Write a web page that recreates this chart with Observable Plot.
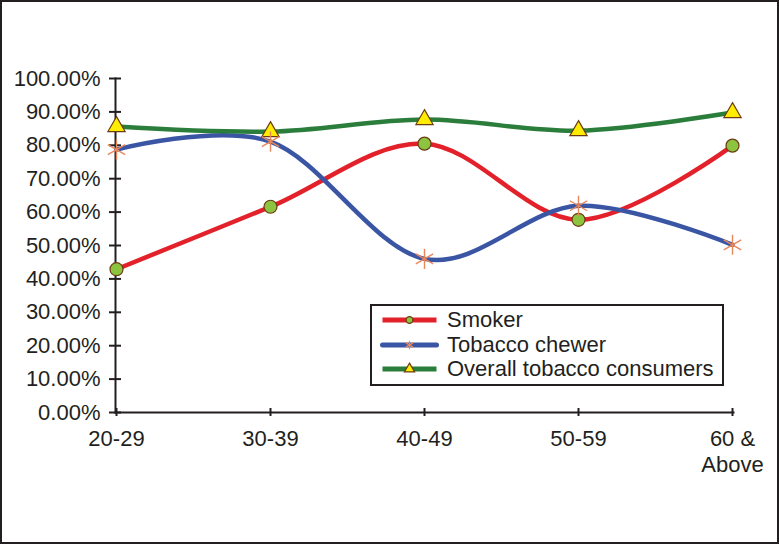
<!DOCTYPE html>
<html><head><meta charset="utf-8">
<script src="https://cdn.jsdelivr.net/npm/d3@7"></script>
<script src="https://cdn.jsdelivr.net/npm/@observablehq/plot@0.6"></script>
<style>
body{margin:0;background:#fff;}
#wrap{position:relative;width:779px;height:544px;font-family:"Liberation Sans",Arial,sans-serif;background:#fff;}
#border{position:absolute;left:0;top:0;width:779px;height:544px;box-sizing:border-box;border:2px solid #231f20;pointer-events:none;}
#legend{position:absolute;left:370px;top:304px;width:354px;height:82px;box-sizing:border-box;border:2px solid #231f20;background:#fff;}
.lrow{position:absolute;left:0;height:24px;display:flex;align-items:center;font-size:22px;color:#231f20;white-space:nowrap;}
.lrow svg{margin-left:8px;margin-right:8px;}
</style></head><body>
<div id="wrap"><div id="chart"></div><div id="legend"></div><div id="border"></div></div>
<script>
const ageGroups = ["20-29", "30-39", "40-49", "50-59", "60 & Above"];
const tickLabels = ["20-29", "30-39", "40-49", "50-59", "60 &\nAbove"];
const smoker = [42.9, 61.6, 80.5, 57.7, 79.9];
const tobaccoChewer = [78.7, 81.1, 46.0, 61.9, 50.2];
const overallConsumers = [85.6, 84.1, 87.7, 84.4, 89.8];
const yTicks = [0, 10, 20, 30, 40, 50, 60, 70, 80, 90, 100];
const seriesNames = ["Smoker", "Tobacco chewer", "Overall tobacco consumers"];
const seriesColors = ["#e3212a", "#3a55a4", "#2a7d3b"];

const seriesValues = [smoker, tobaccoChewer, overallConsumers];
const rows = seriesNames.flatMap((s, i) => ageGroups.map((g, j) => ({series: s, group: g, value: seriesValues[i][j]})));
const bySeries = s => rows.filter(d => d.series === s);
const labelOf = g => tickLabels[ageGroups.indexOf(g)];

const ink = "#231f20";
const chart = Plot.plot({
  width: 779, height: 544,
  marginTop: 78, marginBottom: 132, marginLeft: 115, marginRight: 46,
  style: {fontFamily: '"Liberation Sans", Arial, sans-serif', fontSize: "22px", color: ink, background: "transparent", overflow: "visible"},
  x: {type: "point", domain: ageGroups, padding: 0},
  y: {domain: [0, 100]},
  color: {domain: seriesNames, range: seriesColors},
  marks: [
    Plot.axisY({ticks: yTicks, tickSize: 6, tickPadding: 9, tickFormat: d => d.toFixed(2) + "%", label: null, strokeWidth: 2}),
    Plot.axisY({ticks: yTicks, tickSize: -6, text: null, label: null, strokeWidth: 2}),
    Plot.axisX({tickSize: 4, tickPadding: 11, tickFormat: labelOf, label: null, lineHeight: 1.18, strokeWidth: 2}),
    Plot.axisX({tickSize: -4, text: null, label: null, strokeWidth: 2}),
    Plot.frame({anchor: "left", strokeWidth: 2, stroke: ink}),
    Plot.frame({anchor: "bottom", strokeWidth: 2, stroke: ink}),
    ...seriesNames.map(s => Plot.line(bySeries(s), {x: "group", y: "value", stroke: "series", strokeWidth: 4.5, curve: "cardinal"})),
    Plot.dot(bySeries("Overall tobacco consumers"), {x: "group", y: "value", symbol: "triangle", r: 6.4, fill: "#ffec00", stroke: "#6b3b12", strokeWidth: 1.2}),
    Plot.dot(bySeries("Smoker"), {x: "group", y: "value", r: 6.5, fill: "#8cc33f", stroke: "#6b3b12", strokeWidth: 1.2}),
    Plot.dot(bySeries("Tobacco chewer"), {x: "group", y: "value", symbol: "asterisk", r: 9.5, stroke: "#e8875c", strokeWidth: 1.4})
  ]
});
document.getElementById("chart").appendChild(chart);

// legend
const legend = document.getElementById("legend");
const markerDefs = [
  {type: d3.symbolCircle, size: 36, fill: "#8cc33f", stroke: "#6b3b12"},
  {type: d3.symbolAsterisk, size: 50, fill: "none", stroke: "#e8875c"},
  {type: d3.symbolTriangle, size: 45, fill: "#ffec00", stroke: "#6b3b12"}
];
const rowCenters = [16, 41, 65];
seriesNames.forEach((name, i) => {
  const row = document.createElement("div");
  row.className = "lrow";
  row.style.top = (rowCenters[i] - 2 - 12) + "px";
  const svg = d3.create("svg").attr("width", 59).attr("height", 24);
  svg.append("line").attr("x1", 2.5).attr("x2", 56.5).attr("y1", 12).attr("y2", 12)
    .attr("stroke", seriesColors[i]).attr("stroke-width", 5).attr("stroke-linecap", i === 1 ? "round" : "butt");
  const m = markerDefs[i];
  svg.append("path").attr("transform", "translate(29.5,12)").attr("d", d3.symbol(m.type, m.size)())
    .attr("fill", m.fill).attr("stroke", m.stroke).attr("stroke-width", 1.2);
  row.appendChild(svg.node());
  const span = document.createElement("span");
  span.textContent = name;
  row.appendChild(span);
  legend.appendChild(row);
});
</script>
</body></html>
